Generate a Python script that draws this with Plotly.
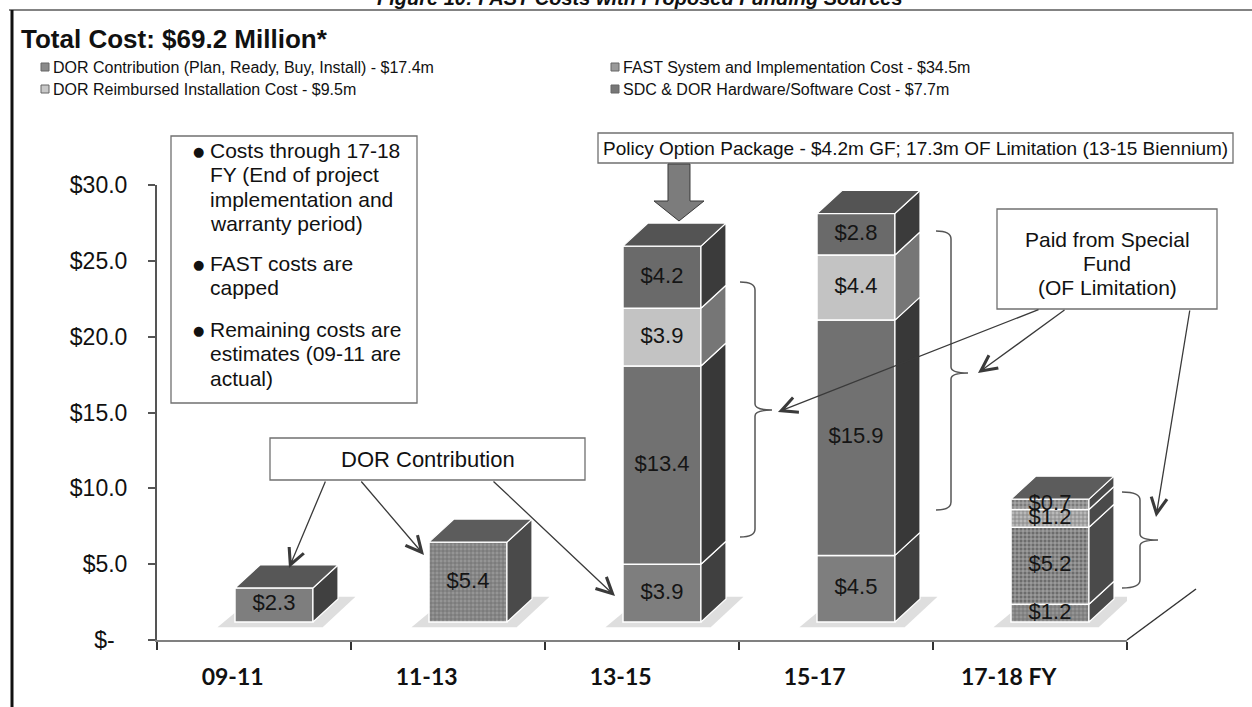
import plotly.graph_objects as go

# ---- data -------------------------------------------------------------
categories = ["09-11", "11-13", "13-15", "15-17", "17-18 FY"]
dor_contribution = [2.3, 5.4, 3.9, 4.5, 1.2]
fast_system = [0, 0, 13.4, 15.9, 5.2]
dor_reimbursed = [0, 0, 3.9, 4.4, 1.2]
sdc_hardware_software = [0, 0, 4.2, 2.8, 0.7]

series_names = [
    "DOR Contribution (Plan, Ready, Buy, Install) - $17.4m",
    "FAST System and Implementation Cost - $34.5m",
    "DOR Reimbursed Installation Cost - $9.5m",
    "SDC & DOR Hardware/Software Cost - $7.7m",
]
y_tick_values = [0, 5, 10, 15, 20, 25, 30]
y_tick_text = ["$-\u00a0\u00a0", "$5.0", "$10.0", "$15.0", "$20.0", "$25.0", "$30.0"]

# ---- styling ----------------------------------------------------------
front_colors = ["#7e7e7e", "#717171", "#c3c3c3", "#6a6a6a"]
side_colors = ["#404040", "#383838", "#767676", "#3b3b3b"]
top_colors = ["#575757", "#4e4e4e", "#8a8a8a", "#545454"]
textured = [1, 4]           # bars printed with a screened (grid) texture
textured_bg = ["#959595", "#6c6c6c", "#b9b9b9", "#7a7a7a"]

W, H = 1252, 707
L, R, T, B = 157, 1127, 185, 640          # plot area in page pixels
BAR_SCALE = 14.8                           # px per $1m on the bar plane
BAR_BASE_PX = 622                          # floor line of the bar plane

BAR_SHIFT = 0.103                          # bar plane offset from the front plane
BAR_W = 0.402
DEPTH_X = 0.129
DEPTH_Y = 23 / BAR_SCALE

FONT = "Liberation Sans, Arial"


def px(x):
    return (x - L) / (R - L)


def py(y):
    return (B - y) / (B - T)


fig = go.Figure()

all_series = [dor_contribution, fast_system, dor_reimbursed, sdc_hardware_software]
bases = [[0.0] * len(categories) for _ in all_series]
for k in range(1, len(all_series)):
    for i in range(len(categories)):
        bases[k][i] = bases[k - 1][i] + all_series[k - 1][i]
totals = [sum(s[i] for s in all_series) for i in range(len(categories))]

shapes = []
annotations = []

# keeps the value axis (y) drawn alongside the bar plane axis (y2)
fig.add_trace(go.Scatter(x=[None], y=[None], mode="markers", showlegend=False,
                         hoverinfo="skip"))

# soft floor shadows under each column
for i in range(len(categories)):
    xl = i + BAR_SHIFT - BAR_W / 2
    xr = i + BAR_SHIFT + BAR_W / 2
    pts = [(xl - 0.09, -0.35), (xr + 0.05, -0.35),
           (xr + DEPTH_X + 0.09, DEPTH_Y + 0.15), (xl + DEPTH_X - 0.03, DEPTH_Y + 0.15)]
    path = "M " + " L ".join(f"{a},{b}" for a, b in pts) + " Z"
    shapes.append(dict(type="path", xref="x", yref="y2", path=path, layer="below",
                       fillcolor="#dedede", line=dict(width=0)))

# front faces
for k, vals in enumerate(all_series):
    xs, ys, bs, pshapes, fg, bg = [], [], [], [], [], []
    for i, v in enumerate(vals):
        if v <= 0:
            continue
        xs.append(i + BAR_SHIFT)
        ys.append(v)
        bs.append(bases[k][i])
        if i in textured:
            pshapes.append("+")
            fg.append("#4e4e4e")
            bg.append(textured_bg[k])
        else:
            pshapes.append("")
            fg.append("#555555")
            bg.append(front_colors[k])
    fig.add_trace(go.Bar(
        x=xs, y=ys, base=bs, width=BAR_W, yaxis="y2", name=series_names[k],
        marker=dict(color=bg, line=dict(color="white", width=1.5),
                    pattern=dict(shape=pshapes, fgcolor=fg, bgcolor=bg,
                                 size=4, solidity=0.35)),
        showlegend=False, hoverinfo="skip",
    ))

# side and top faces
for k, vals in enumerate(all_series):
    for i, v in enumerate(vals):
        if v <= 0:
            continue
        xl = i + BAR_SHIFT - BAR_W / 2
        xr = i + BAR_SHIFT + BAR_W / 2
        b0 = bases[k][i]
        b1 = b0 + v
        side = side_colors[k] if i not in textured else "#4a4a4a"
        fig.add_trace(go.Scatter(
            x=[xr, xr + DEPTH_X, xr + DEPTH_X, xr, xr],
            y=[b0, b0 + DEPTH_Y, b1 + DEPTH_Y, b1, b0],
            yaxis="y2", mode="lines", fill="toself", fillcolor=side,
            line=dict(color="white", width=1.2), showlegend=False, hoverinfo="skip",
        ))
        if abs(b1 - totals[i]) < 1e-9:
            top = top_colors[k] if i not in textured else "#5c5c5c"
            fig.add_trace(go.Scatter(
                x=[xl, xr, xr + DEPTH_X, xl + DEPTH_X, xl],
                y=[b1, b1, b1 + DEPTH_Y, b1 + DEPTH_Y, b1],
                yaxis="y2", mode="lines", fill="toself", fillcolor=top,
                line=dict(color="white", width=1.2), showlegend=False, hoverinfo="skip",
            ))

# value labels on the front faces
lx, ly, lt = [], [], []
for k, vals in enumerate(all_series):
    for i, v in enumerate(vals):
        if v <= 0:
            continue
        lx.append(i + BAR_SHIFT)
        ly.append(bases[k][i] + v / 2)
        lt.append(f"${v:.1f}")
fig.add_trace(go.Scatter(
    x=lx, y=ly, text=lt, mode="text", yaxis="y2",
    textfont=dict(family=FONT, size=22, color="#151515"),
    showlegend=False, hoverinfo="skip",
))

# page frame
shapes.append(dict(type="line", xref="paper", yref="paper",
                   x0=px(9), x1=px(1252), y0=py(10), y1=py(10),
                   line=dict(color="#5a5a5a", width=1.5)))
shapes.append(dict(type="line", xref="paper", yref="paper",
                   x0=px(12), x1=px(12), y0=py(10), y1=py(707),
                   line=dict(color="#111111", width=3)))

annotations.append(dict(
    text="<b><i>Figure 10: FAST Costs with Proposed Funding Sources</i></b>",
    xref="paper", yref="paper", x=px(640), y=py(11), xanchor="center", yanchor="bottom",
    showarrow=False, font=dict(family=FONT, size=20, color="#111")))

annotations.append(dict(
    text="<b>Total Cost: $69.2 Million*</b>",
    xref="paper", yref="paper", x=px(19), y=py(39), xanchor="left", yanchor="middle",
    showarrow=False, font=dict(family=FONT, size=26, color="#111")))

# legend
legend_pos = [(45, 67), (615, 67), (45, 89), (615, 89)]
legend_fill = ["#8a8a8a", "#9a9a9a", "#c8c8c8", "#777777"]
for k, (lxp, lyp) in enumerate(legend_pos):
    shapes.append(dict(type="rect", xref="paper", yref="paper",
                       x0=px(lxp - 4), x1=px(lxp + 4), y0=py(lyp + 4), y1=py(lyp - 4),
                       fillcolor=legend_fill[k], line=dict(color="#666", width=1)))
    annotations.append(dict(
        text=series_names[k], xref="paper", yref="paper", x=px(lxp + 6), y=py(lyp),
        xanchor="left", yanchor="middle", showarrow=False,
        font=dict(family=FONT, size=16, color="#111")))

box_line = dict(color="#707070", width=1.3)

# notes box
shapes.append(dict(type="rect", xref="paper", yref="paper",
                   x0=px(171), x1=px(417), y0=py(403), y1=py(136),
                   fillcolor="white", line=box_line))
notes = [
    [(150, "Costs through 17-18"), (174.5, "FY (End of project"),
     (199, "implementation and"), (223.5, "warranty period)")],
    [(263, "FAST costs are"), (287.5, "capped")],
    [(329, "Remaining costs are"), (353.5, "estimates (09-11 are"), (378, "actual)")],
]
for para in notes:
    annotations.append(dict(text="\u25cf", xref="paper", yref="paper", x=px(198),
                            y=py(para[0][0] + 1), xanchor="center", yanchor="middle",
                            showarrow=False,
                            font=dict(family="DejaVu Sans", size=13, color="#111")))
    for yy, txt in para:
        annotations.append(dict(text=txt, xref="paper", yref="paper", x=px(208), y=py(yy),
                                xanchor="left", yanchor="middle", showarrow=False,
                                font=dict(family=FONT, size=21, color="#111")))

# policy option package box and its block arrow
shapes.append(dict(type="rect", xref="paper", yref="paper",
                   x0=px(598), x1=px(1233), y0=py(163), y1=py(133),
                   fillcolor="white", line=box_line))
annotations.append(dict(
    text="Policy Option Package - $4.2m GF; 17.3m OF Limitation (13-15 Biennium)",
    xref="paper", yref="paper", x=px(915), y=py(148), xanchor="center", yanchor="middle",
    showarrow=False, font=dict(family=FONT, size=19, color="#111")))
arrow_pts = [(668, 164), (690, 164), (690, 201), (704, 201), (679, 221), (654, 201), (668, 201)]
path = "M " + " L ".join(f"{px(a):.5f},{py(b):.5f}" for a, b in arrow_pts) + " Z"
shapes.append(dict(type="path", xref="paper", yref="paper", path=path,
                   fillcolor="#7c7c7c", line=dict(color="#3a3a3a", width=1)))

# DOR contribution call-out
shapes.append(dict(type="rect", xref="paper", yref="paper",
                   x0=px(270), x1=px(585), y0=py(480), y1=py(438),
                   fillcolor="white", line=box_line))
annotations.append(dict(text="DOR Contribution", xref="paper", yref="paper",
                        x=px(428), y=py(459), xanchor="center", yanchor="middle",
                        showarrow=False, font=dict(family=FONT, size=22, color="#111")))

# special fund call-out
shapes.append(dict(type="rect", xref="paper", yref="paper",
                   x0=px(997), x1=px(1217), y0=py(309), y1=py(209),
                   fillcolor="white", line=box_line))
for yy, txt in [(239, "Paid from Special"), (263, "Fund"), (287, "(OF Limitation)")]:
    annotations.append(dict(text=txt, xref="paper", yref="paper", x=px(1107), y=py(yy),
                            xanchor="center", yanchor="middle", showarrow=False,
                            font=dict(family=FONT, size=21, color="#111")))


# braces beside the bars
def brace(xl, xv, xt, y0, ym, y1):
    return (f"M {px(xl)},{py(y0)} Q {px(xv)},{py(y0)} {px(xv)},{py(y0 + 8)} "
            f"L {px(xv)},{py(ym - 6)} Q {px(xv)},{py(ym)} {px(xt)},{py(ym)} "
            f"Q {px(xv)},{py(ym)} {px(xv)},{py(ym + 6)} "
            f"L {px(xv)},{py(y1 - 8)} Q {px(xv)},{py(y1)} {px(xl)},{py(y1)}")


for args in [(740, 755, 772, 282, 410, 537),
             (936, 951, 968, 231, 373, 510),
             (1122, 1140, 1158, 492, 540, 588)]:
    shapes.append(dict(type="path", xref="paper", yref="paper", path=brace(*args),
                       line=dict(color="#555555", width=1.5)))

# floor edge on the right
shapes.append(dict(type="line", xref="paper", yref="paper",
                   x0=px(1127), x1=px(1196), y0=py(640), y1=py(589),
                   line=dict(color="#333333", width=1.5)))

# thin call-out arrows (tail -> tip, page pixels)
callouts = [
    ((326, 480), (289, 568)),
    ((360, 480), (424, 555)),
    ((492, 480), (615, 596)),
    ((1040, 309), (778, 412)),
    ((1066, 309), (978, 373)),
    ((1190, 309), (1156, 517)),
]
for (tx, ty), (hx, hy) in callouts:
    annotations.append(dict(
        x=px(hx), y=py(hy), xref="paper", yref="paper", text="",
        showarrow=True, ax=tx - hx, ay=ty - hy, arrowhead=5, arrowsize=2.4,
        arrowwidth=1.3, arrowcolor="#3a3a3a"))

fig.update_layout(
    width=W, height=H,
    margin=dict(l=L, r=W - R, t=T, b=H - B),
    paper_bgcolor="white", plot_bgcolor="white",
    barmode="overlay",
    showlegend=False,
    xaxis=dict(
        range=[-0.5, len(categories) - 0.5],
        tickvals=[i - 0.11 for i in range(len(categories))],
        ticktext=categories,
        ticks="outside", ticklen=0,
        tickfont=dict(family="Lato", size=23, color="#111", weight="bold"),
        ticklabelstandoff=15,
        showline=True, linecolor="#808080", linewidth=2,
        showgrid=False, zeroline=False,
        minor=dict(tickvals=[i - 0.5 for i in range(len(categories) + 1)],
                   ticks="outside", ticklen=8, tickcolor="#333", tickwidth=1.5),
    ),
    yaxis=dict(
        range=[0, 30],
        tickvals=y_tick_values, ticktext=y_tick_text,
        ticks="outside", ticklen=7, tickcolor="#555", tickwidth=1.5,
        tickfont=dict(family=FONT, size=23, color="#111"),
        ticklabelstandoff=16,
        showline=True, linecolor="#555555", linewidth=2,
        showgrid=False, zeroline=False,
    ),
    yaxis2=dict(
        range=[-(B - BAR_BASE_PX) / BAR_SCALE,
               -(B - BAR_BASE_PX) / BAR_SCALE + (B - T) / BAR_SCALE],
        overlaying="y", visible=False,
    ),
    shapes=shapes,
    annotations=annotations,
)

fig.write_html("out.html")
